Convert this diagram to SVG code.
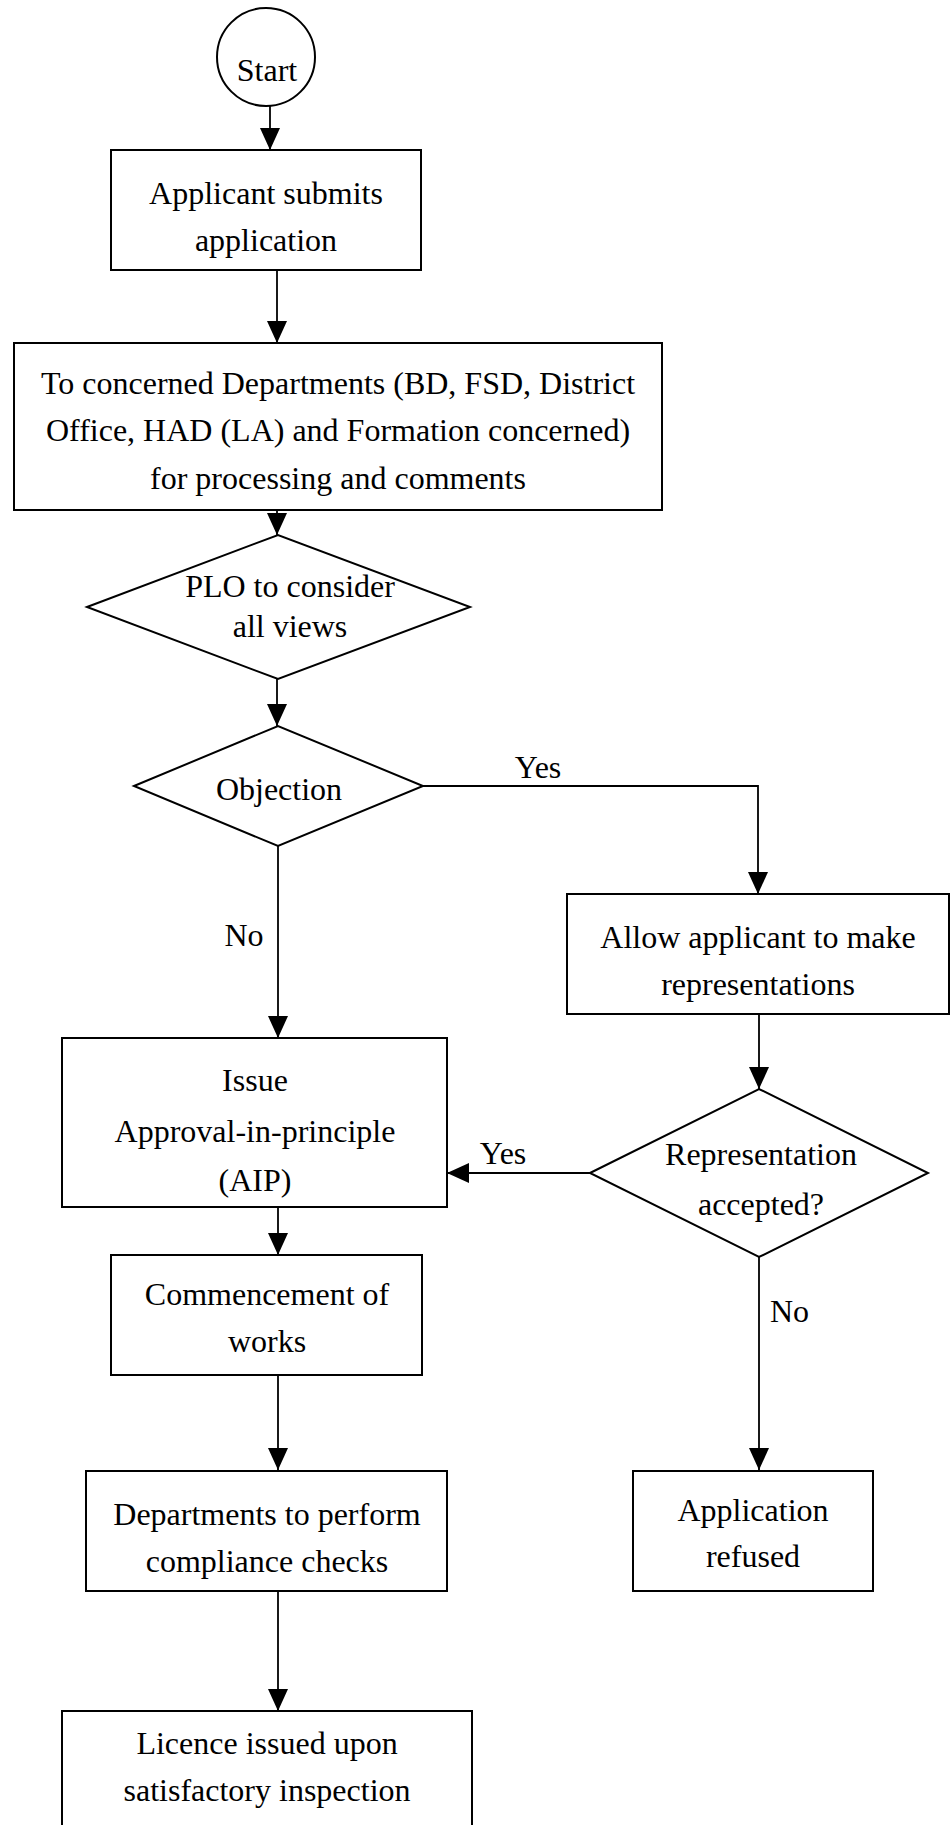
<svg xmlns="http://www.w3.org/2000/svg" width="951" height="1825" viewBox="0 0 951 1825">
<style>
.s{fill:#fff;stroke:#000;stroke-width:2}
.c{fill:none;stroke:#000;stroke-width:1.8}
text{font-family:"Liberation Serif","Times New Roman",serif;font-size:32px;fill:#000;text-anchor:middle}
.l{text-anchor:start}
</style>
<defs>
<marker id="ah" markerUnits="userSpaceOnUse" markerWidth="22" markerHeight="20" refX="22" refY="10" orient="auto">
<path d="M0,0 L22,10 L0,20 z" fill="#000"/>
</marker>
</defs>
<rect width="951" height="1825" fill="#fff"/>
<g id="connectors">
<line class="c" x1="270" y1="105" x2="270" y2="150" marker-end="url(#ah)"/>
<line class="c" x1="277" y1="270" x2="277" y2="343" marker-end="url(#ah)"/>
<line class="c" x1="277" y1="510" x2="277" y2="535" marker-end="url(#ah)"/>
<line class="c" x1="277" y1="679" x2="277" y2="726" marker-end="url(#ah)"/>
<path class="c" d="M423,786 H758 V894" marker-end="url(#ah)"/>
<line class="c" x1="278" y1="846" x2="278" y2="1038" marker-end="url(#ah)"/>
<line class="c" x1="759" y1="1014" x2="759" y2="1089" marker-end="url(#ah)"/>
<line class="c" x1="590" y1="1173" x2="447" y2="1173" marker-end="url(#ah)"/>
<line class="c" x1="759" y1="1257" x2="759" y2="1470" marker-end="url(#ah)"/>
<line class="c" x1="278" y1="1207" x2="278" y2="1255" marker-end="url(#ah)"/>
<line class="c" x1="278" y1="1375" x2="278" y2="1470" marker-end="url(#ah)"/>
<line class="c" x1="278" y1="1591" x2="278" y2="1711" marker-end="url(#ah)"/>
<text x="538" y="778">Yes</text>
<text x="244" y="946">No</text>
<text x="503" y="1164">Yes</text>
<text class="l" x="770" y="1322">No</text>
</g>
<g id="start">
<circle class="s" cx="266" cy="57" r="49"/>
<text x="267" y="81">Start</text>
</g>
<g id="submit">
<rect class="s" x="111" y="150" width="310" height="120"/>
<text x="266" y="204">Applicant submits</text>
<text x="266" y="251">application</text>
</g>
<g id="departments">
<rect class="s" x="14" y="343" width="648" height="167"/>
<text x="338" y="394">To concerned Departments (BD, FSD, District</text>
<text x="338" y="441">Office, HAD (LA) and Formation concerned)</text>
<text x="338" y="489">for processing and comments</text>
</g>
<g id="plo">
<polygon class="s" points="87,607 278,535 470,607 278,679"/>
<text x="290" y="597">PLO to consider</text>
<text x="290" y="637">all views</text>
</g>
<g id="objection">
<polygon class="s" points="134,786 278,726 423,786 278,846"/>
<text x="279" y="800">Objection</text>
</g>
<g id="represent">
<rect class="s" x="567" y="894" width="382" height="120"/>
<text x="758" y="948">Allow applicant to make</text>
<text x="758" y="995">representations</text>
</g>
<g id="accepted">
<polygon class="s" points="590,1173 759,1089 928,1173 759,1257"/>
<text x="761" y="1165">Representation</text>
<text x="761" y="1215">accepted?</text>
</g>
<g id="aip">
<rect class="s" x="62" y="1038" width="385" height="169"/>
<text x="255" y="1091">Issue</text>
<text x="255" y="1142">Approval-in-principle</text>
<text x="255" y="1191">(AIP)</text>
</g>
<g id="works">
<rect class="s" x="111" y="1255" width="311" height="120"/>
<text x="267" y="1305">Commencement of</text>
<text x="267" y="1352">works</text>
</g>
<g id="checks">
<rect class="s" x="86" y="1471" width="361" height="120"/>
<text x="267" y="1525">Departments to perform</text>
<text x="267" y="1572">compliance checks</text>
</g>
<g id="refused">
<rect class="s" x="633" y="1471" width="240" height="120"/>
<text x="753" y="1521">Application</text>
<text x="753" y="1567">refused</text>
</g>
<g id="licence">
<rect class="s" x="62" y="1711" width="410" height="130"/>
<text x="267" y="1754">Licence issued upon</text>
<text x="267" y="1801">satisfactory inspection</text>
</g>
</svg>
